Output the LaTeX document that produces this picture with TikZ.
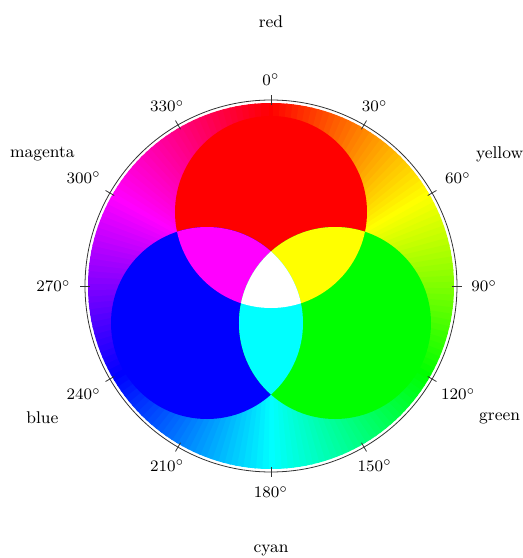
\documentclass[tikz,border=0pt]{standalone}
\usepackage{xcolor}
\definecolor{pmag}{rgb}{1,0,1}
\definecolor{pcyan}{rgb}{0,1,1}
\definecolor{pyellow}{rgb}{1,1,0}
\definecolor{pred}{rgb}{1,0,0}
\definecolor{pgreen}{rgb}{0,1,0}
\definecolor{pblue}{rgb}{0,0,1}
\begin{document}
\begin{tikzpicture}[x=0.5pt,y=0.5pt,
  deglabel/.style={font=\fontsize{8.5}{10}\selectfont, inner sep=2pt},
  colorlabel/.style={font=\fontsize{8.5}{10}\selectfont},
  ring/.style={draw=black!80, line width=0.4pt}]
\useasboundingbox (-271,-272) rectangle (252,286);
% hue wheel
\foreach \i in {0,2,...,358}{
  \pgfmathsetmacro{\h}{\i/360}
  \definecolor{wc}{hsb}{\h,1,1}
  \fill[wc] (0,0) -- (90-\i+1.3:183) arc[start angle=90-\i+1.3, end angle=90-\i-1.3, radius=183] -- cycle;
}
% RGB circles
\coordinate (rc) at (0,74);
\coordinate (bc) at (-64,-37);
\coordinate (gc) at (64,-37);
\fill[pred] (rc) circle[radius=96];
\fill[pblue] (bc) circle[radius=96];
\fill[pgreen] (gc) circle[radius=96];
\begin{scope}
  \clip (rc) circle[radius=96];
  \fill[pmag] (bc) circle[radius=96];
  \fill[pyellow] (gc) circle[radius=96];
\end{scope}
\begin{scope}
  \clip (bc) circle[radius=96];
  \fill[pcyan] (gc) circle[radius=96];
\end{scope}
\begin{scope}
  \clip (rc) circle[radius=96];
  \clip (bc) circle[radius=96];
  \fill[white] (gc) circle[radius=96];
\end{scope}
% outer ring
\draw[ring] (0,0) circle[radius=186];
\foreach \t in {0,30,...,330}{
  \draw[ring] (90-\t:181) -- (90-\t:191);
  \node[deglabel, anchor=270-\t] (d\t) at (90-\t:196) {$\t^\circ$};
}
% colour labels
\node[colorlabel] (lred) at (90:264) {red};
\node[colorlabel] (lyellow) at (30:264) {yellow};
\node[colorlabel] (lgreen) at (-30:264) {green};
\node[colorlabel] (lcyan) at (-90:264) {cyan};
\node[colorlabel] (lblue) at (-150:264) {blue};
\node[colorlabel] (lmagenta) at (150:264) {magenta};
\end{tikzpicture}
\end{document}
